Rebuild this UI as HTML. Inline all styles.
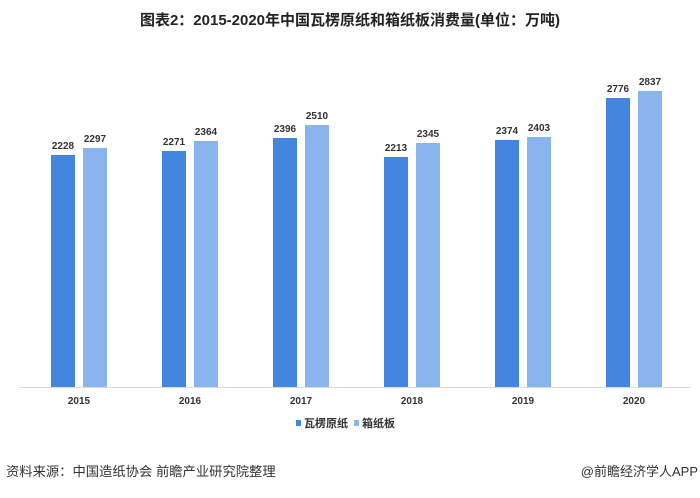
<!DOCTYPE html>
<html><head><meta charset="utf-8"><style>
body{margin:0;width:700px;height:493px;background:#fff;overflow:hidden;font-family:"Liberation Sans","Noto Sans CJK SC",sans-serif}
</style></head><body>
<svg width="700" height="493" xmlns="http://www.w3.org/2000/svg" font-family="Liberation Sans, Noto Sans CJK SC, sans-serif">
<text x="350" y="25" text-anchor="middle" font-size="15" font-weight="bold" fill="#222">图表2：2015-2020年中国瓦楞原纸和箱纸板消费量(单位：万吨)</text>
<line x1="20" y1="387.5" x2="690" y2="387.5" stroke="#d9d9d9" stroke-width="1"/>
<g font-size="10" font-weight="bold" fill="#333" text-anchor="middle">
<rect x="51" y="155" width="24" height="232" fill="#4286e0"/><rect x="83" y="148" width="24" height="239" fill="#8ab4ee"/>
<text x="63" y="149">2228</text><text x="95" y="142">2297</text>
<rect x="162" y="151" width="24" height="236" fill="#4286e0"/><rect x="194" y="141" width="24" height="246" fill="#8ab4ee"/>
<text x="174" y="145">2271</text><text x="206" y="135">2364</text>
<rect x="273" y="138" width="24" height="249" fill="#4286e0"/><rect x="305" y="125" width="24" height="262" fill="#8ab4ee"/>
<text x="285" y="132">2396</text><text x="317" y="119">2510</text>
<rect x="384" y="157" width="24" height="230" fill="#4286e0"/><rect x="416" y="143" width="24" height="244" fill="#8ab4ee"/>
<text x="396" y="151">2213</text><text x="428" y="137">2345</text>
<rect x="495" y="140" width="24" height="247" fill="#4286e0"/><rect x="527" y="137" width="24" height="250" fill="#8ab4ee"/>
<text x="507" y="134">2374</text><text x="539" y="131">2403</text>
<rect x="606" y="98" width="24" height="289" fill="#4286e0"/><rect x="638" y="91" width="24" height="296" fill="#8ab4ee"/>
<text x="618" y="92">2776</text><text x="650" y="85">2837</text>
<text x="79" y="404">2015</text><text x="190" y="404">2016</text><text x="301" y="404">2017</text><text x="412" y="404">2018</text><text x="523" y="404">2019</text><text x="634" y="404">2020</text>
</g>
<rect x="296" y="420" width="5" height="6" fill="#4286e0"/>
<text x="304" y="427" font-size="11" font-weight="bold" fill="#333">瓦楞原纸</text>
<rect x="354" y="420" width="5" height="6" fill="#8ab4ee"/>
<text x="362" y="427" font-size="11" font-weight="bold" fill="#333">箱纸板</text>
<text x="6" y="476" font-size="13.3" fill="#333">资料来源：中国造纸协会 前瞻产业研究院整理</text>
<text x="698" y="476" font-size="13" fill="#333" text-anchor="end">@前瞻经济学人APP</text>
</svg>
</body></html>
